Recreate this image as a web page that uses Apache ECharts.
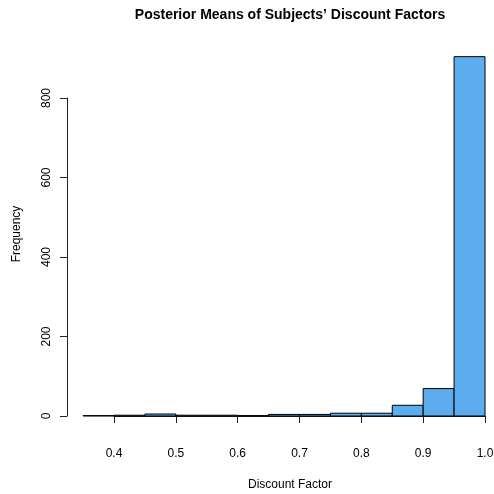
<!DOCTYPE html>
<html><head><meta charset="utf-8">
<script src="https://cdn.jsdelivr.net/npm/echarts@6/dist/echarts.min.js"></script>
<style>html,body{margin:0;padding:0;background:#fff}#c{width:494px;height:494px}</style>
</head><body><div id="c"></div>
<script>
const binStarts = [0.35,0.40,0.45,0.50,0.55,0.60,0.65,0.70,0.75,0.80,0.85,0.90,0.95];
const binWidth = 0.05;
const counts = [1,2,5,2,2,1,4,4,7,7,27,69,904];
const xTicks = [0.4,0.5,0.6,0.7,0.8,0.9,1.0];
const yTicks = [0,200,400,600,800];

const chart = echarts.init(document.getElementById('c'));
const font = 'Liberation Sans, Arial, sans-serif';
chart.setOption({
  animation:false,
  backgroundColor:'#fff',
  title:[
    {text:'Posterior Means of Subjects’ Discount Factors',left:285,top:3,textAlign:'center',
      textStyle:{fontFamily:font,fontSize:14,fontWeight:'bold',color:'#000'}},
    {text:'Discount Factor',left:285,top:474,textAlign:'center',
      textStyle:{fontFamily:font,fontSize:12,fontWeight:'normal',color:'#000'}}
  ],
  graphic:[{type:'text',x:17,y:234,rotation:Math.PI/2,
    style:{text:'Frequency',font:'12px '+font,fill:'#000',align:'center',verticalAlign:'middle'}}],
  grid:{left:114,right:9,top:98,bottom:78,containLabel:false,outerBoundsMode:'none'},
  xAxis:{type:'value',min:0.4,max:1.0,interval:0.1,offset:16,
    axisLine:{show:true,lineStyle:{color:'#222',width:1}},
    axisTick:{show:true,length:7,lineStyle:{color:'#222'}},
    axisLabel:{fontFamily:font,fontSize:12,color:'#000',margin:16,formatter:v=>v.toFixed(1)},
    splitLine:{show:false}},
  yAxis:{type:'value',min:0,max:800,interval:200,offset:47,
    axisLine:{show:true,lineStyle:{color:'#222',width:1}},
    axisTick:{show:true,length:7,lineStyle:{color:'#222'}},
    axisLabel:{fontFamily:font,fontSize:12,color:'#000',rotate:90,margin:14},
    splitLine:{show:false}},
  series:[{
    type:'custom',clip:false,
    data:binStarts.map((s,i)=>[s,s+binWidth,counts[i]]),
    renderItem:function(params,api){
      const p0=api.coord([api.value(0),0]);
      const p1=api.coord([api.value(1),api.value(2)]);
      return {type:'rect',shape:{x:p0[0],y:p1[1],width:p1[0]-p0[0],height:p0[1]-p1[1]},
        style:{fill:'#5CACEE',stroke:'#000',lineWidth:1}};
    }
  }]
});
</script></body></html>
